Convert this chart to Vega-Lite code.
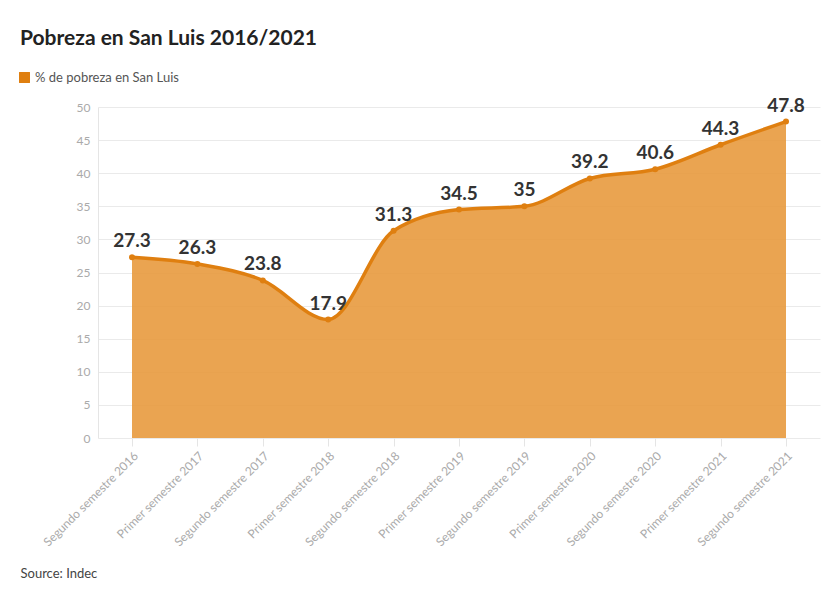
{
  "$schema": "https://vega.github.io/schema/vega-lite/v6.json",
  "width": 722,
  "height": 331,
  "autosize": {"type": "none"},
  "padding": {"left": 98, "top": 107, "right": 16, "bottom": 162},
  "background": "white",
  "config": {
    "font": "Lato",
    "view": {"stroke": null}
  },
  "title": {
    "text": "Pobreza en San Luis 2016/2021",
    "anchor": "start",
    "frame": "group",
    "dx": -78,
    "offset": 22,
    "fontSize": 21,
    "fontWeight": "bold",
    "color": "#222222",
    "font": "Lato"
  },
  "data": {
    "values": [
      {"periodo": "Segundo semestre 2016", "valor": 27.3, "serie": "% de pobreza en San Luis"},
      {"periodo": "Primer semestre 2017", "valor": 26.3, "serie": "% de pobreza en San Luis"},
      {"periodo": "Segundo semestre 2017", "valor": 23.8, "serie": "% de pobreza en San Luis"},
      {"periodo": "Primer semestre 2018", "valor": 17.9, "serie": "% de pobreza en San Luis"},
      {"periodo": "Segundo semestre 2018", "valor": 31.3, "serie": "% de pobreza en San Luis"},
      {"periodo": "Primer semestre 2019", "valor": 34.5, "serie": "% de pobreza en San Luis"},
      {"periodo": "Segundo semestre 2019", "valor": 35, "serie": "% de pobreza en San Luis"},
      {"periodo": "Primer semestre 2020", "valor": 39.2, "serie": "% de pobreza en San Luis"},
      {"periodo": "Segundo semestre 2020", "valor": 40.6, "serie": "% de pobreza en San Luis"},
      {"periodo": "Primer semestre 2021", "valor": 44.3, "serie": "% de pobreza en San Luis"},
      {"periodo": "Segundo semestre 2021", "valor": 47.8, "serie": "% de pobreza en San Luis"}
    ]
  },
  "encoding": {
    "x": {
      "field": "periodo",
      "type": "ordinal",
      "sort": null,
      "scale": {"type": "point", "padding": 0.52},
      "axis": {
        "title": "Source: Indec",
        "titleAnchor": "start",
        "titleAlign": "left",
        "titleX": -78,
        "titleY": 129,
        "titleFont": "Lato",
        "titleFontSize": 13,
        "titleFontWeight": "normal",
        "titleColor": "#444444",
        "labelAngle": -45,
        "labelAlign": "right",
        "labelBaseline": "top",
        "labelColor": "#aaaaaa",
        "labelFontSize": 12,
        "labelPadding": 4,
        "domain": false,
        "ticks": true,
        "tickColor": "#e5e5e5",
        "tickSize": 8,
        "grid": false
      }
    },
    "y": {
      "field": "valor",
      "type": "quantitative",
      "scale": {"domain": [0, 50], "nice": false},
      "axis": {
        "title": null,
        "values": [0, 5, 10, 15, 20, 25, 30, 35, 40, 45, 50],
        "labelColor": "#aaaaaa",
        "labelFontSize": 12,
        "labelPadding": 8,
        "domain": true,
        "domainColor": "#e5e5e5",
        "ticks": false,
        "gridColor": "#eaeaea"
      }
    }
  },
  "layer": [
    {
      "mark": {"type": "area", "interpolate": "monotone", "color": "#e89a3e", "opacity": 0.9}
    },
    {
      "mark": {"type": "line", "interpolate": "monotone", "strokeWidth": 3.5},
      "encoding": {
        "color": {
          "field": "serie",
          "type": "nominal",
          "scale": {"range": ["#df7f10"]},
          "legend": {
            "title": null,
            "orient": "none",
            "legendX": -80,
            "legendY": -36,
            "symbolType": "square",
            "symbolSize": 120,
            "symbolFillColor": "#df7f10",
            "symbolStrokeWidth": 0,
            "labelFontSize": 13,
            "labelColor": "#555555",
            "labelFont": "Lato"
          }
        }
      }
    },
    {
      "mark": {"type": "point", "filled": true, "size": 36, "color": "#df7f10", "opacity": 1}
    },
    {
      "mark": {"type": "text", "dy": -16, "fontSize": 19, "fontWeight": "bold", "color": "#333333", "font": "Lato"},
      "encoding": {"text": {"field": "valor", "type": "quantitative"}}
    }
  ]
}
